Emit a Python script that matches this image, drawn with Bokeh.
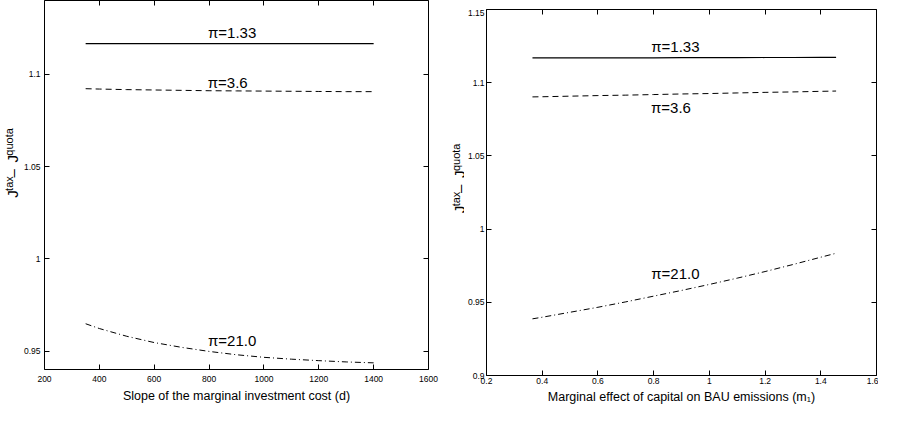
import math
from bokeh.plotting import figure
from bokeh.models import Range1d, LinearAxis, FixedTicker, CustomJSTickFormatter, Label, Spacer
from bokeh.layouts import row, column
from bokeh.embed import file_html
from bokeh.resources import INLINE

FONT = "Liberation Sans"

# ---------------- data: left panel ----------------
d_values = [350, 400, 500, 600, 700, 800, 900, 1000, 1100, 1200, 1300, 1400]
left_pi133 = [1.1166, 1.1166, 1.1166, 1.1166, 1.1166, 1.1166, 1.1166, 1.1166, 1.1166, 1.1166, 1.1166, 1.1166]
left_pi36 = [1.0922, 1.0920, 1.0917, 1.0915, 1.0913, 1.0911, 1.0910, 1.0909, 1.0908, 1.0907, 1.0906, 1.0906]
left_pi21 = [0.9648, 0.9622, 0.9580, 0.9546, 0.9520, 0.9498, 0.9480, 0.9466, 0.9456, 0.9448, 0.9441, 0.9436]
left_xticks = [200, 400, 600, 800, 1000, 1200, 1400, 1600]
left_yticks = [0.95, 1.0, 1.05, 1.1]
left_xlim = (200, 1600)
left_ylim = (0.94, 1.14)
left_labels = ["π=1.33", "π=3.6", "π=21.0"]
left_label_x = [884, 868, 884]
left_label_y = [1.1224, 1.0957, 0.9559]

# ---------------- data: right panel ----------------
m_values = [0.365, 0.4, 0.5, 0.6, 0.7, 0.8, 0.9, 1.0, 1.1, 1.2, 1.3, 1.4, 1.455]
right_pi133 = [1.1169, 1.1169, 1.1169, 1.1170, 1.1170, 1.1170, 1.1171, 1.1171, 1.1171, 1.1172, 1.1172, 1.1173, 1.1173]
right_pi36 = [1.0903, 1.0904, 1.0908, 1.0912, 1.0915, 1.0919, 1.0923, 1.0926, 1.0930, 1.0934, 1.0937, 1.0941, 1.0943]
right_pi21 = [0.9387, 0.9398, 0.9432, 0.9466, 0.9503, 0.9542, 0.9581, 0.9622, 0.9665, 0.9710, 0.9758, 0.9808, 0.9835]
right_xticks = [0.2, 0.4, 0.6, 0.8, 1.0, 1.2, 1.4, 1.6]
right_yticks = [0.9, 0.95, 1.0, 1.05, 1.1, 1.15]
right_xlim = (0.2, 1.6)
right_ylim = (0.9, 1.15)
right_labels = ["π=1.33", "π=3.6", "π=21.0"]
right_label_x = [0.878, 0.862, 0.878]
right_label_y = [1.125, 1.083, 0.9695]

# y-axis title pieces: (text, font size, superscript?)
ylabel_pieces = [("J", "15px", False), ("tax", "11px", True), (" \u2013 ", "15px", False),
                 ("J", "15px", False), ("quota", "11px", True)]
ylabel_advance = [0.0, 7.5, 22.2, 38.8, 46.3]

fmt_code = "return String(Math.round(tick*100)/100);"


def style_axis(ax, ticks, show_labels, standoff):
    ax.ticker = FixedTicker(ticks=ticks)
    ax.formatter = CustomJSTickFormatter(code=fmt_code)
    ax.axis_line_color = "black"
    ax.axis_line_width = 1
    ax.major_tick_line_color = "black"
    ax.major_tick_in = 5
    ax.major_tick_out = 0
    ax.minor_tick_line_color = None
    ax.major_label_text_font = FONT
    ax.major_label_text_color = "black"
    ax.major_label_standoff = standoff
    if show_labels:
        ax.major_label_text_font_size = "8.5px"
    else:
        ax.major_label_text_font_size = "0px"
        ax.major_label_text_color = None
        ax.major_label_standoff = 0


def make_panel(xlim, ylim, xticks, yticks, xs, series, labels, lx, ly,
               xlabel, width, height, borders, x_standoff, y_standoff,
               xlabel_standoff):
    bl, br, bt, bb = borders
    p = figure(width=width, height=height,
               x_range=Range1d(*xlim), y_range=Range1d(*ylim),
               output_backend="svg", toolbar_location=None,
               min_border_left=bl, min_border_right=br,
               min_border_top=bt, min_border_bottom=bb)
    p.grid.visible = False
    p.outline_line_color = None
    p.background_fill_color = "white"
    p.border_fill_color = "white"

    style_axis(p.xaxis[0], xticks, True, x_standoff)
    style_axis(p.yaxis[0], yticks, True, y_standoff)
    p.xaxis[0].axis_label = xlabel
    p.xaxis[0].axis_label_text_font = FONT
    p.xaxis[0].axis_label_text_font_style = "normal"
    p.xaxis[0].axis_label_text_font_size = "12.5px"
    p.xaxis[0].axis_label_text_color = "black"
    p.xaxis[0].axis_label_standoff = xlabel_standoff

    top = LinearAxis()
    style_axis(top, xticks, False, 0)
    p.add_layout(top, "above")
    right = LinearAxis()
    style_axis(right, yticks, False, 0)
    p.add_layout(right, "right")

    dashes = ["solid", "6 4", "6 3 1 3"]
    widths = [1.2, 1.0, 1.0]
    for ys, dash, w in zip(series, dashes, widths):
        p.line(xs, ys, line_color="black", line_width=w, line_dash=dash)

    for t, x, y in zip(labels, lx, ly):
        p.add_layout(Label(x=x, y=y, text=t, text_font=FONT, text_font_size="15px",
                           text_align="center", text_baseline="middle",
                           text_color="black"))
    return p


def make_ylabel(width, height, baseline_x, bottom_y):
    q = figure(width=width, height=height, x_range=Range1d(0, width),
               y_range=Range1d(0, height), x_axis_type=None, y_axis_type=None,
               output_backend="svg", toolbar_location=None, min_border=0)
    q.grid.visible = False
    q.outline_line_color = None
    for (txt, fs, sup), adv in zip(ylabel_pieces, ylabel_advance):
        q.add_layout(Label(x=baseline_x - (4 if sup else 0), y=bottom_y + adv,
                           text=txt, angle=math.pi / 2, text_font=FONT,
                           text_font_size=fs, text_align="left",
                           text_baseline="alphabetic", text_color="black"))
    return q


H = 406
TOP2 = 9
p1 = make_panel(left_xlim, left_ylim, left_xticks, left_yticks, d_values,
                [left_pi133, left_pi36, left_pi21], left_labels, left_label_x, left_label_y,
                "Slope of the marginal investment cost (d)",
                420, H, (19, 12, 0, 37), 6, 4, 4)
lab1 = make_ylabel(20, H, 12, H - 217)

p2 = make_panel(right_xlim, right_ylim, right_xticks, right_yticks, m_values,
                [right_pi133, right_pi36, right_pi21], right_labels, right_label_x, right_label_y,
                "Marginal effect of capital on BAU emissions (m\u2081)",
                414, H - TOP2, (21, 2, 0, 30), 2, 2, 3)
lab2 = make_ylabel(24, H, 19, H - 234)

right_block = column(Spacer(width=414, height=TOP2), p2)
layout = row(lab1, p1, lab2, right_block)
open("out.html", "w").write(file_html(layout, INLINE))
